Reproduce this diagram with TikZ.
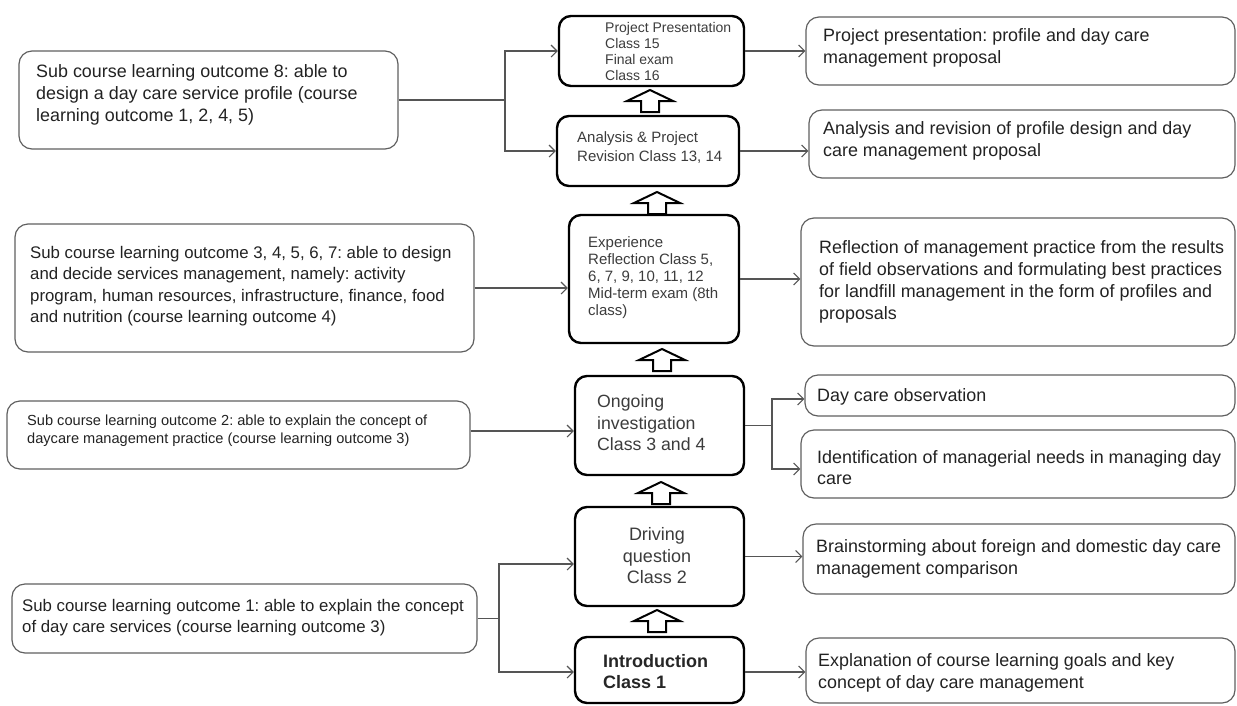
\documentclass[tikz,border=0pt]{standalone}
\usepackage{fontspec}
\setmainfont{Liberation Sans}
\usetikzlibrary{arrows.meta,calc}
\definecolor{sideline}{HTML}{606060}
\definecolor{txt}{HTML}{222222}
\definecolor{ctxt}{HTML}{3C3C3C}
\definecolor{connc}{HTML}{555555}
\frenchspacing
\begin{document}
\begin{tikzpicture}[x=1pt,y=-1pt,
  sidebox/.style={draw=sideline, line width=1.2pt, rounded corners=13pt, inner sep=0pt},
  cbox/.style={draw=black, line width=2.4pt, rounded corners=12pt, inner sep=0pt},
  bigtext/.style={anchor=west, inner sep=0pt, align=left, text=txt, font=\fontsize{17.9}{21.8}\selectfont},
  midtext/.style={anchor=west, inner sep=0pt, align=left, text=txt, font=\fontsize{16.8}{21.5}\selectfont},
  smalltext/.style={anchor=west, inner sep=0pt, align=left, text=txt, font=\fontsize{14.6}{18}\selectfont},
  ctext/.style={anchor=west, inner sep=0pt, align=left, text=ctxt},
  plainline/.style={draw=connc, line width=1.1pt},
  conn/.style={draw=connc, line width=1.1pt, -{Straight Barb[length=6pt,width=12pt,line width=1.1pt]}},
  blockup/.pic={\draw[line width=2pt, fill=white, line join=miter]
     (0,0) -- (23,11) -- (9,11) -- (9,22) -- (-9,22) -- (-9,11) -- (-23,11) -- cycle;}
]
\useasboundingbox (0,0) rectangle (1237,705);

% ---------- left boxes ----------
\node[sidebox, minimum width=379, minimum height=98] (l8) at (208.5,100) {};
\node[bigtext] (l8t) at (36,95) {Sub course learning outcome 8: able to\\design a day care service profile (course\\learning outcome 1, 2, 4, 5)};

\node[sidebox, minimum width=459, minimum height=128] (l37) at (244.5,288) {};
\node[midtext] (l37t) at (30,286) {Sub course learning outcome 3, 4, 5, 6, 7: able to design\\and decide services management, namely: activity\\program, human resources, infrastructure, finance, food\\and nutrition (course learning outcome 4)};

\node[sidebox, minimum width=463, minimum height=68] (l2) at (238.5,435) {};
\node[smalltext] (l2t) at (27,431) {Sub course learning outcome 2: able to explain the concept of\\daycare management practice (course learning outcome 3)};

\node[sidebox, minimum width=465, minimum height=69] (l1) at (244.5,618.5) {};
\node[midtext] (l1t) at (22,617.5) {Sub course learning outcome 1: able to explain the concept\\of day care services (course learning outcome 3)};

% ---------- centre boxes ----------
\node[cbox, minimum width=185, minimum height=70] (pp) at (651.5,51) {};
\node[ctext, font=\fontsize{14}{16}\selectfont] (ppt) at (605,51) {Project Presentation\\Class 15\\Final exam\\Class 16};

\node[cbox, minimum width=182, minimum height=70] (an) at (648,151) {};
\node[ctext, font=\fontsize{15}{19}\selectfont] (ant) at (577,147.5) {Analysis \& Project\\Revision Class 13, 14};

\node[cbox, minimum width=170, minimum height=128] (exp) at (654,279) {};
\node[ctext, font=\fontsize{15}{17.2}\selectfont] (expt) at (588,277.6) {Experience\\Reflection Class 5,\\6, 7, 9, 10, 11, 12\\Mid-term exam (8th\\class)};

\node[cbox, minimum width=169, minimum height=99] (ong) at (659.5,425.5) {};
\node[ctext, font=\fontsize{17.7}{21.5}\selectfont] (ongt) at (597,423) {Ongoing\\investigation\\Class 3 and 4};

\node[cbox, minimum width=169, minimum height=99] (drv) at (659.5,556.5) {};
\node[inner sep=0pt, align=center, text=ctxt, font=\fontsize{18}{21.5}\selectfont] (drvt) at (657,556) {Driving\\question\\Class 2};

\node[cbox, minimum width=169, minimum height=66] (intro) at (659.5,670) {};
\node[ctext, font=\bfseries\fontsize{18}{21}\selectfont, text=black!85] (introt) at (603,671.5) {Introduction\\Class 1};

% ---------- block arrows ----------
\pic at (650,90) {blockup};
\pic at (657,192) {blockup};
\pic at (662,349) {blockup};
\pic at (661,482) {blockup};
\pic at (657,610) {blockup};

% ---------- right boxes ----------
\node[sidebox, minimum width=429, minimum height=68] (rpp) at (1020.5,51) {};
\node[bigtext] (rppt) at (823,48) {Project presentation: profile and day care\\management proposal};

\node[sidebox, minimum width=426, minimum height=68] (ran) at (1022,144) {};
\node[bigtext] (rant) at (823,141) {Analysis and revision of profile design and day\\care management proposal};

\node[sidebox, minimum width=434, minimum height=128] (rref) at (1018,282) {};
\node[bigtext] (rreft) at (819,282) {Reflection of management practice from the results\\of field observations and formulating best practices\\for landfill management in the form of profiles and\\proposals};

\node[sidebox, minimum width=430, minimum height=41] (robs) at (1020,395.5) {};
\node[bigtext] (robst) at (817,397) {Day care observation};

\node[sidebox, minimum width=434, minimum height=68] (rid) at (1018,464) {};
\node[bigtext] (ridt) at (817,467.5) {Identification of managerial needs in managing day\\care};

\node[sidebox, minimum width=432, minimum height=70] (rbr) at (1019,559) {};
\node[bigtext] (rbrt) at (816,559) {Brainstorming about foreign and domestic day care\\management comparison};

\node[sidebox, minimum width=429, minimum height=65] (rex) at (1020.5,670.5) {};
\node[bigtext] (rext) at (818,672.5) {Explanation of course learning goals and key\\concept of day care management};

% ---------- left connectors ----------
\coordinate (j8) at (505,100);
\draw[plainline] (l8.east) -- (j8);
\draw[conn] (j8) |- (pp.west);
\draw[conn] (j8) |- (an.west);

\draw[conn] (l37.east) -- (l37.east -| exp.west);
\draw[conn] ([yshift=4pt]l2.east) -- ([yshift=4pt]l2.east -| ong.west);

\coordinate (j1) at (499,618.5);
\draw[plainline] (l1.east) -- (j1);
\draw[conn] (j1) |- ([yshift=-7.5pt]drv.west);
\draw[conn] (j1) |- ([yshift=-2pt]intro.west);

% ---------- right connectors ----------
\draw[conn] (pp.east) -- (pp.east -| rpp.west);
\draw[conn] (an.east) -- (an.east -| ran.west);
\draw[conn] (exp.east) -- (exp.east -| rref.west);

\coordinate (jo) at (772,425.5);
\draw[plainline] (ong.east) -- (jo);
\draw[conn] (jo) |- ([yshift=-3.5pt]robs.west);
\draw[conn] (jo) |- ([yshift=-5pt]rid.west);

\draw[conn] (drv.east) -- (drv.east -| rbr.west);
\draw[conn] ([yshift=-2pt]intro.east) -- ([yshift=-2pt]intro.east -| rex.west);
\end{tikzpicture}
\end{document}
